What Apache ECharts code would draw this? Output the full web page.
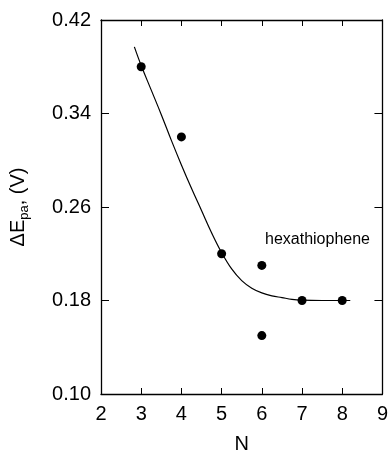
<!DOCTYPE html>
<html>
<head>
<meta charset="utf-8">
<script src="https://cdn.jsdelivr.net/npm/echarts@6/dist/echarts.min.js"></script>
<style>
html,body{margin:0;padding:0;background:#fff;}
#c{width:391px;height:459px;}
</style>
</head>
<body>
<div id="c"></div>
<script>
// Measured points
const pointN = [3, 4, 5, 6, 6, 7, 8];
const pointE = [0.38, 0.32, 0.22, 0.21, 0.15, 0.18, 0.18];
// Fitted curve
const curveN = [2.83, 3.0, 3.25, 3.5, 3.75, 4.0, 4.25, 4.5, 4.75, 5.0, 5.25, 5.5, 5.75, 6.0, 6.25, 6.5, 6.75, 7.0, 7.5, 8.2];
const curveE = [0.397, 0.381, 0.360, 0.339, 0.317, 0.296, 0.276, 0.257, 0.238, 0.221, 0.207, 0.197, 0.1905, 0.1865, 0.184, 0.1825, 0.181, 0.1803, 0.1800, 0.1800];
// Axis ticks
const xTicks = [2, 3, 4, 5, 6, 7, 8, 9];
const yTicks = [0.10, 0.18, 0.26, 0.34, 0.42];
const annotationText = 'hexathiophene';

const font = 'Liberation Sans';
const chart = echarts.init(document.getElementById('c'), null, {renderer: 'canvas'});

const axisLineStyle = {color: '#000', width: 1.3};
const xInner = xTicks.slice(1, -1);
const yInner = yTicks.slice(1, -1);

chart.setOption({
  animation: false,
  backgroundColor: '#fff',
  grid: {left: 101, right: 5, top: 20, bottom: 61},
  xAxis: [{
    type: 'value', min: xTicks[0], max: xTicks[xTicks.length - 1], interval: 1,
    position: 'bottom',
    name: 'N', nameLocation: 'middle', nameGap: 40,
    nameTextStyle: {fontFamily: font, fontSize: 20, color: '#000'},
    axisLine: {show: true, lineStyle: axisLineStyle},
    axisTick: {show: true, inside: true, length: 6, lineStyle: {color: '#000', width: 1}, customValues: xInner},
    axisLabel: {fontFamily: font, fontSize: 20, color: '#000', margin: 10, customValues: xTicks},
    splitLine: {show: false}
  }, {
    type: 'value', min: xTicks[0], max: xTicks[xTicks.length - 1], interval: 1,
    position: 'top',
    axisLine: {show: true, lineStyle: axisLineStyle},
    axisTick: {show: true, inside: true, length: 6, lineStyle: {color: '#000', width: 1}, customValues: xInner},
    axisLabel: {show: false},
    splitLine: {show: false}
  }],
  yAxis: [{
    type: 'value', min: yTicks[0], max: yTicks[yTicks.length - 1],
    position: 'left',
    name: '{a|ΔE}{sub|pa}{a|, (V)}', nameLocation: 'middle', nameGap: 68, nameRotate: 90,
    nameTextStyle: {
      fontFamily: font, fontSize: 20, color: '#000',
      rich: {
        a: {fontFamily: font, fontSize: 20, color: '#000', lineHeight: 30, verticalAlign: 'middle'},
        sub: {fontFamily: font, fontSize: 13, color: '#000', lineHeight: 30, verticalAlign: 'bottom', padding: [0, 0, 2, 0]}
      }
    },
    axisLine: {show: true, lineStyle: axisLineStyle},
    axisTick: {show: true, inside: true, length: 8, lineStyle: {color: '#000', width: 1}, customValues: yInner},
    axisLabel: {fontFamily: font, fontSize: 20, color: '#000', margin: 10, customValues: yTicks,
      formatter: v => v.toFixed(2)},
    splitLine: {show: false}
  }, {
    type: 'value', min: yTicks[0], max: yTicks[yTicks.length - 1],
    position: 'right',
    axisLine: {show: true, lineStyle: axisLineStyle},
    axisTick: {show: true, inside: true, length: 8, lineStyle: {color: '#000', width: 1}, customValues: yInner},
    axisLabel: {show: false},
    splitLine: {show: false}
  }],
  series: [{
    type: 'line',
    data: curveN.map((n, i) => [n, curveE[i]]),
    smooth: 0.4,
    showSymbol: false,
    lineStyle: {color: '#000', width: 1.2},
    silent: true
  }, {
    type: 'scatter',
    data: pointN.map((n, i) => [n, pointE[i]]),
    symbol: 'circle',
    symbolSize: 9,
    itemStyle: {color: '#000', opacity: 1},
    silent: true
  }],
  graphic: [{
    type: 'text', left: 265, top: 232,
    style: {text: annotationText, fontFamily: font, fontSize: 16, fill: '#000'}
  }]
});
</script>
</body>
</html>
